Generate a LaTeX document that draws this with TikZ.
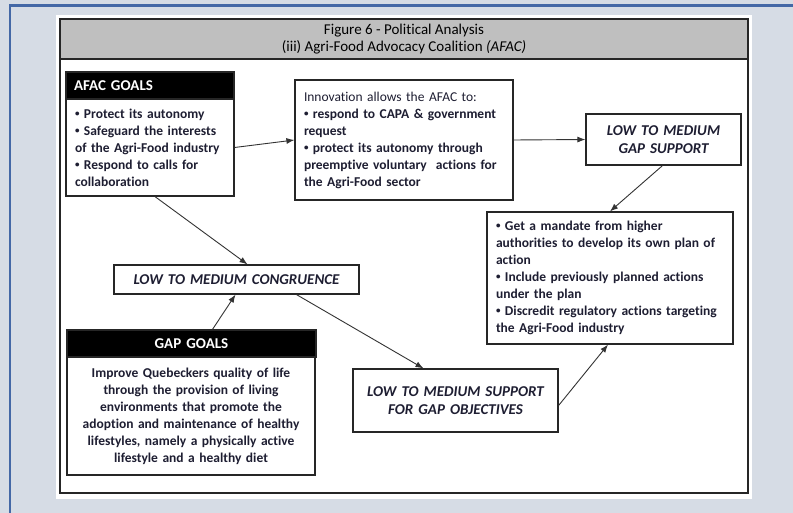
\documentclass[tikz,border=0pt]{standalone}
\usepackage{fontspec}
\setmainfont{Carlito}[Ligatures=NoCommon]
\usetikzlibrary{arrows.meta}
\definecolor{bgblue}{HTML}{D6DCE5}
\definecolor{edgeblue}{HTML}{4468A6}
\definecolor{hdrgray}{HTML}{BFBFBF}
\definecolor{inktext}{HTML}{1E1E32}
\newcommand{\bul}{\raisebox{1.6pt}{\fontsize{9pt}{9pt}\selectfont•}}
\begin{document}
\begin{tikzpicture}[x=1pt,y=-1pt,
  boxtxt/.style={font=\fontsize{13.5pt}{17pt}\selectfont\bfseries, text=inktext},
  box/.style={draw=black!85, line width=1.2pt, fill=white, inner ysep=0pt, boxtxt},
  leftbox/.style={box, align=left, inner xsep=9pt},
  ctrbox/.style={box, align=center, inner xsep=6pt},
  italbox/.style={box, align=center, inner xsep=4pt,
     font=\fontsize{15pt}{17.5pt}\selectfont\bfseries\itshape},
  blackhead/.style={draw=black!85, line width=1.2pt, fill=black, text=white, inner ysep=0pt,
     font=\fontsize{15pt}{17pt}\selectfont\bfseries},
  arr/.style={draw=black!80, line width=0.9pt, -{Latex[length=8pt,width=6pt]}}
]
\useasboundingbox (0,0) rectangle (793,513);
% background
\fill[bgblue] (0,0) rectangle (793,513);
\draw[edgeblue, line width=2.5pt] (9,5.5) -- (793,5.5);
\draw[edgeblue, line width=2.5pt] (10,4.5) -- (10,513);
% white panel and frame
\fill[white] (56,15) rectangle (752,499);
\draw[black!85, line width=1.2pt] (60,19) rectangle (748,493);

% header
\node[draw=black!85, line width=1.2pt, fill=hdrgray, minimum width=688pt, minimum height=40pt,
      inner sep=0pt, align=center, font=\fontsize{15pt}{17pt}\selectfont, text=black]
  (header) at (404,39) {Figure 6 - Political Analysis\\(iii) Agri-Food Advocacy Coalition \textit{(AFAC)}};

% AFAC goals
\node[blackhead, minimum width=168pt, minimum height=27pt, text width=152pt, inner xsep=8pt, align=left]
  (afachead) at (150,85.5) {AFAC GOALS};
\node[leftbox, minimum width=168pt, minimum height=97pt, text width=150pt]
  (afacbody) at (150,147.5)
  {\bul{} Protect its autonomy\\\bul{} Safeguard the interests\\of the Agri-Food industry\\\bul{} Respond to calls for\\collaboration};

% Innovation
\node[leftbox, minimum width=218pt, minimum height=120pt, text width=200pt]
  (innov) at (404,140)
  {{\mdseries Innovation allows the AFAC to:}\\\bul{} respond to CAPA \& government\\request\\\bul{} protect its autonomy through\\preemptive voluntary~ actions for\\the Agri-Food sector};

% Gap support
\node[italbox, minimum width=155pt, minimum height=51pt, text width=147pt]
  (gapsup) at (663.5,139.5) {LOW TO MEDIUM\\GAP SUPPORT};

% Mandate
\node[leftbox, minimum width=246pt, minimum height=132pt, text width=228pt]
  (mandate) at (610,278)
  {\bul{} Get a mandate from higher\\authorities to develop its own plan of\\action\\\bul{} Include previously planned actions\\under the plan\\\bul{} Discredit regulatory actions targeting\\the Agri-Food industry};

% Congruence
\node[italbox, minimum width=245pt, minimum height=29pt, text width=237pt]
  (cong) at (236.5,279.5) {LOW TO MEDIUM CONGRUENCE};

% GAP goals
\node[blackhead, minimum width=249pt, minimum height=27pt, text width=241pt, inner xsep=4pt, align=center]
  (gaphead) at (191.5,343.5) {GAP GOALS};
\node[ctrbox, minimum width=248pt, minimum height=118pt, text width=236pt]
  (gapbody) at (191,416)
  {Improve Quebeckers quality of life\\through the provision of living\\environments that promote the\\adoption and maintenance of healthy\\lifestyles, namely a physically active\\lifestyle and a healthy diet};

% Support
\node[italbox, minimum width=205pt, minimum height=63pt, text width=197pt]
  (support) at (455.5,400.5) {LOW TO MEDIUM SUPPORT\\FOR GAP OBJECTIVES};

% connectors
\draw[arr] (afacbody.east) -- (innov.west);
\draw[arr] (innov.east) -- (gapsup.west);
\draw[arr] ([xshift=-1pt]gapsup.south) -- (mandate.north);
\draw[arr] ([xshift=5pt]afacbody.south) -- ([xshift=11pt]cong.north);
\draw[arr] ([xshift=21pt]gaphead.north) -- ([xshift=-1pt]cong.south);
\draw[arr] ([xshift=60pt]cong.south) -- ([xshift=-32pt]support.north);
\draw[arr] ([yshift=-5pt]support.east) -- ([xshift=-2pt]mandate.south);
\end{tikzpicture}
\end{document}
